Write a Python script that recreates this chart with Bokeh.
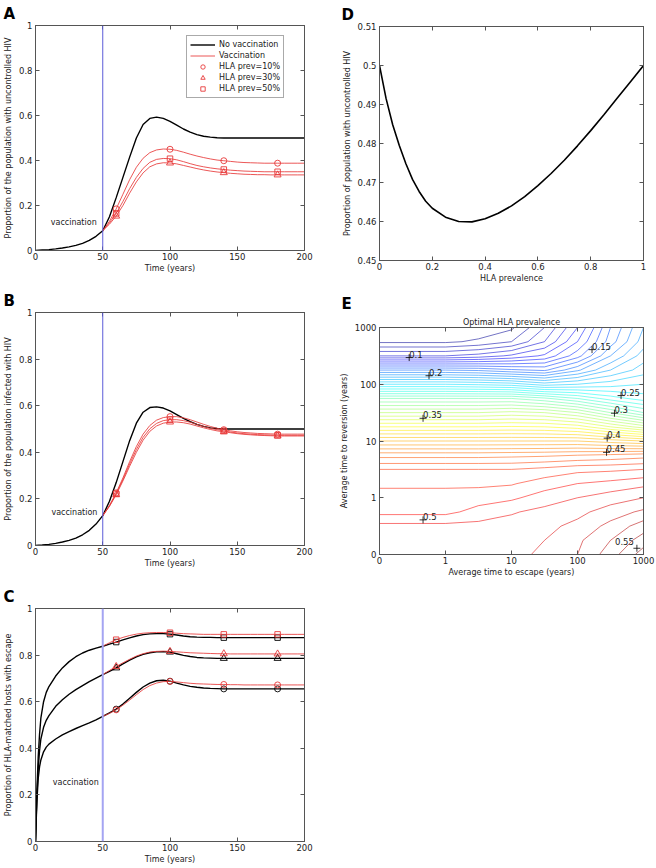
import numpy as np
from bokeh.plotting import figure
from bokeh.layouts import row, column
from bokeh.models import (LinearAxis, FixedTicker, Span, Label, Legend, LegendItem,
                          ColumnDataSource, Range1d, Title)
from bokeh.core.properties import value
from bokeh.embed import file_html
from bokeh.resources import INLINE

# ------------------------------------------------------------------ data
T = list(range(0, 205, 5))            # years (no-vaccination curves, A & B)
TR = list(range(50, 205, 5))          # years (vaccination curves)
TC = [0, 1, 2, 3, 4, 6, 8] + list(range(10, 205, 5))   # years (panel C, no vaccination)
MARK_T = [60, 100, 140, 180]
VACC_YEAR = 50
TIME_TICKS = [0, 50, 100, 150, 200]
TIME_LABELS = ["0", "50", "100", "150", "200"]
PROP_TICKS = [0, 0.2, 0.4, 0.6, 0.8, 1]
PROP_LABELS = ["0", "0.2", "0.4", "0.6", "0.8", "1"]

# Panel A: proportion with uncontrolled HIV
A_NOVAC = [0.0, 0.002, 0.004, 0.007, 0.011, 0.016, 0.023, 0.032, 0.045, 0.063,
           0.088, 0.15, 0.235, 0.325, 0.415, 0.5, 0.56, 0.587, 0.593, 0.587,
           0.574, 0.557, 0.54, 0.526, 0.515, 0.508, 0.504, 0.501, 0.5, 0.5,
           0.5, 0.5, 0.5, 0.5, 0.5, 0.5, 0.5, 0.5, 0.5, 0.5,
           0.5]
A_VAC10 = [0.088, 0.13, 0.185, 0.25, 0.315, 0.37, 0.41, 0.435, 0.447, 0.451,
           0.45, 0.445, 0.437, 0.428, 0.42, 0.413, 0.407, 0.402, 0.399, 0.396,
           0.393, 0.391, 0.39, 0.389, 0.388, 0.388, 0.388, 0.388, 0.388, 0.388,
           0.388]
A_VAC30 = [0.088, 0.117, 0.153, 0.2, 0.255, 0.305, 0.345, 0.372, 0.385, 0.39,
           0.389, 0.385, 0.378, 0.371, 0.364, 0.358, 0.353, 0.349, 0.346, 0.343,
           0.341, 0.339, 0.338, 0.337, 0.337, 0.336, 0.336, 0.336, 0.336, 0.336,
           0.336]
A_VAC50 = [0.088, 0.123, 0.165, 0.218, 0.275, 0.325, 0.365, 0.392, 0.405, 0.409,
           0.408, 0.403, 0.395, 0.386, 0.378, 0.372, 0.367, 0.363, 0.36, 0.357,
           0.355, 0.353, 0.352, 0.351, 0.35, 0.35, 0.35, 0.35, 0.35, 0.35,
           0.35]

# Panel B: proportion infected with HIV
B_NOVAC = [0.0, 0.002, 0.005, 0.009, 0.015, 0.022, 0.032, 0.046, 0.065, 0.092,
           0.128, 0.19, 0.27, 0.36, 0.45, 0.525, 0.572, 0.592, 0.595, 0.59,
           0.578, 0.562, 0.546, 0.532, 0.52, 0.511, 0.505, 0.502, 0.5, 0.5,
           0.5, 0.5, 0.5, 0.5, 0.5, 0.5, 0.5, 0.5, 0.5, 0.5,
           0.5]
B_VAC10 = [0.128, 0.172, 0.226, 0.29, 0.36, 0.425, 0.478, 0.515, 0.538, 0.549,
           0.553, 0.553, 0.548, 0.54, 0.53, 0.52, 0.511, 0.503, 0.497, 0.492,
           0.488, 0.485, 0.483, 0.481, 0.48, 0.479, 0.478, 0.478, 0.478, 0.478,
           0.478]
B_VAC30 = [0.128, 0.168, 0.218, 0.277, 0.34, 0.4, 0.452, 0.49, 0.513, 0.525,
           0.53, 0.53, 0.527, 0.521, 0.513, 0.505, 0.498, 0.492, 0.488, 0.484,
           0.48, 0.477, 0.475, 0.473, 0.472, 0.471, 0.47, 0.47, 0.47, 0.47,
           0.47]
B_VAC50 = [0.128, 0.17, 0.222, 0.283, 0.35, 0.412, 0.464, 0.501, 0.524, 0.536,
           0.54, 0.54, 0.536, 0.529, 0.52, 0.511, 0.503, 0.497, 0.492, 0.487,
           0.483, 0.48, 0.478, 0.476, 0.475, 0.474, 0.473, 0.473, 0.473, 0.473,
           0.473]

# Panel C: proportion of HLA-matched hosts with escape
C_NOVAC10 = [0.0, 0.17, 0.27, 0.32, 0.35, 0.385, 0.405,
             0.418, 0.44, 0.458, 0.472, 0.485, 0.497, 0.509, 0.522, 0.537, 0.552,
             0.568, 0.59, 0.615, 0.64, 0.663, 0.68, 0.69, 0.692, 0.688, 0.68,
             0.672, 0.666, 0.662, 0.659, 0.657, 0.656, 0.655, 0.655, 0.655, 0.655,
             0.655, 0.655, 0.655, 0.655, 0.655, 0.655, 0.655, 0.655, 0.655]
C_NOVAC30 = [0.0, 0.19, 0.31, 0.39, 0.44, 0.49, 0.52,
             0.54, 0.58, 0.608, 0.632, 0.652, 0.669, 0.686, 0.701, 0.716, 0.73,
             0.745, 0.762, 0.778, 0.792, 0.803, 0.81, 0.814, 0.815, 0.813, 0.806,
             0.799, 0.794, 0.79, 0.788, 0.787, 0.786, 0.786, 0.786, 0.786, 0.786,
             0.786, 0.786, 0.786, 0.786, 0.786, 0.786, 0.786, 0.786, 0.786]
C_NOVAC50 = [0.0, 0.21, 0.36, 0.46, 0.53, 0.6, 0.64,
             0.665, 0.71, 0.745, 0.772, 0.793, 0.809, 0.821, 0.83, 0.838, 0.847,
             0.856, 0.865, 0.874, 0.882, 0.888, 0.891, 0.892, 0.892, 0.89, 0.886,
             0.882, 0.879, 0.877, 0.876, 0.876, 0.875, 0.875, 0.875, 0.875, 0.875,
             0.875, 0.875, 0.875, 0.875, 0.875, 0.875, 0.875, 0.875, 0.875]
C_VAC10 = [0.537, 0.55, 0.565, 0.585, 0.607, 0.63, 0.652, 0.669, 0.68, 0.686,
           0.687, 0.685, 0.682, 0.679, 0.677, 0.676, 0.675, 0.674, 0.674, 0.673,
           0.673, 0.672, 0.672, 0.672, 0.672, 0.672, 0.672, 0.672, 0.672, 0.672,
           0.672]
C_VAC30 = [0.716, 0.734, 0.751, 0.767, 0.782, 0.796, 0.806, 0.813, 0.816, 0.817,
           0.816, 0.814, 0.812, 0.81, 0.809, 0.808, 0.807, 0.806, 0.806, 0.805,
           0.805, 0.805, 0.805, 0.805, 0.805, 0.805, 0.805, 0.805, 0.805, 0.805,
           0.805]
C_VAC50 = [0.838, 0.853, 0.866, 0.876, 0.884, 0.89, 0.894, 0.896, 0.897, 0.897,
           0.896, 0.894, 0.892, 0.891, 0.89, 0.889, 0.889, 0.889, 0.889, 0.889,
           0.889, 0.889, 0.889, 0.889, 0.889, 0.889, 0.889, 0.889, 0.889, 0.889,
           0.889]

# Panel D: uncontrolled HIV vs HLA prevalence
D_HLA = [0, 0.025, 0.05, 0.075, 0.1, 0.125, 0.15, 0.175, 0.2, 0.25, 0.3, 0.35, 0.4,
         0.45, 0.5, 0.55, 0.6, 0.65, 0.7, 0.75, 0.8, 0.85, 0.9, 0.95, 1.0]
D_UNC = [0.5, 0.4915, 0.4848, 0.4795, 0.4748, 0.4708, 0.4677, 0.4652, 0.4634, 0.4611,
         0.46, 0.4599, 0.4607, 0.4621, 0.464, 0.4664, 0.4692, 0.4723, 0.4757, 0.4794,
         0.4833, 0.4874, 0.4916, 0.4958, 0.5]
D_XTICKS = [0, 0.2, 0.4, 0.6, 0.8, 1]
D_XLABELS = ["0", "0.2", "0.4", "0.6", "0.8", "1"]
D_YTICKS = [0.45, 0.46, 0.47, 0.48, 0.49, 0.5, 0.51]
D_YLABELS = ["0.45", "0.46", "0.47", "0.48", "0.49", "0.5", "0.51"]

# Panel E: optimal HLA prevalence on a (log-spaced) grid
E_TICK_POS = [0, 1, 2, 3, 4]
E_TICK_LABELS = ["0", "1", "10", "100", "1000"]
E_ESCAPE = [0, 1, 1.5, 2, 2.5, 3, 3.5, 4]                 # axis positions
E_REVERSION = [0, 0.25, 0.5, 0.75, 1.0, 1.25, 1.5, 1.75, 2.0,
               2.25, 2.5, 2.75, 3.0, 3.25, 3.5, 3.75, 4.0]
E_OPT = [
    [0.505, 0.505, 0.505, 0.507, 0.512, 0.52, 0.535, 0.555],
    [0.503, 0.503, 0.503, 0.505, 0.51, 0.518, 0.53, 0.545],
    [0.503, 0.503, 0.503, 0.504, 0.507, 0.513, 0.523, 0.535],
    [0.487, 0.487, 0.494, 0.499, 0.503, 0.507, 0.515, 0.522],
    [0.484, 0.484, 0.485, 0.488, 0.495, 0.5, 0.505, 0.51],
    [0.478, 0.478, 0.478, 0.479, 0.485, 0.49, 0.493, 0.497],
    [0.47, 0.47, 0.47, 0.47, 0.473, 0.477, 0.478, 0.48],
    [0.446, 0.446, 0.446, 0.447, 0.448, 0.45, 0.452, 0.455],
    [0.41, 0.41, 0.41, 0.41, 0.41, 0.41, 0.405, 0.4],
    [0.37, 0.37, 0.37, 0.371, 0.37, 0.365, 0.35, 0.335],
    [0.33, 0.33, 0.33, 0.333, 0.33, 0.32, 0.3, 0.28],
    [0.29, 0.29, 0.29, 0.29, 0.282, 0.27, 0.255, 0.245],
    [0.23, 0.23, 0.228, 0.225, 0.215, 0.22, 0.225, 0.23],
    [0.17, 0.17, 0.168, 0.162, 0.158, 0.178, 0.2, 0.215],
    [0.1, 0.1, 0.104, 0.112, 0.122, 0.146, 0.18, 0.205],
    [0.068, 0.068, 0.072, 0.08, 0.1, 0.13, 0.165, 0.195],
    [0.06, 0.06, 0.062, 0.068, 0.09, 0.12, 0.16, 0.19],
]
E_LEVELS = [round(0.07 + 0.01 * i, 2) for i in range(49)]
E_LAB_X = [0.45, 0.75, 3.22, 3.66, 3.56, 0.66, 3.45, 3.44, 0.66, 3.90]
E_LAB_Y = [3.47, 3.15, 3.61, 2.80, 2.49, 2.40, 2.05, 1.80, 0.61, 0.11]
E_LAB_TEXT = ["0.1", "0.2", "0.15", "0.25", "0.3", "0.35", "0.4", "0.45", "0.5", "0.55"]

# ------------------------------------------------------------------ style
FONT = "DejaVu Sans"
AXC = "#555555"
TXT = "#222222"
RED = "#e83a3a"
TICK_FS = "8.5px"
TITLE_FS = "8px"


def base_fig(w, h, xr, yr, left, right, top, bottom):
    p = figure(width=w, height=h, x_range=Range1d(*xr), y_range=Range1d(*yr),
               output_backend="svg", toolbar_location=None,
               min_border_left=left, min_border_right=right,
               min_border_top=top, min_border_bottom=bottom)
    p.grid.visible = False
    p.outline_line_color = AXC
    p.outline_line_width = 1
    p.background_fill_color = "white"
    p.border_fill_color = "white"
    return p


def tick_style(ax):
    ax.major_tick_in = 4
    ax.major_tick_out = 0
    ax.minor_tick_line_color = None
    ax.major_tick_line_color = AXC
    ax.axis_line_color = AXC


def style_axes(p, xt, xl, yt, yl, xtitle, ytitle):
    xa, ya = p.xaxis[0], p.yaxis[0]
    xa.ticker = FixedTicker(ticks=xt)
    xa.major_label_overrides = dict(zip(xt, xl))
    ya.ticker = FixedTicker(ticks=yt)
    ya.major_label_overrides = dict(zip(yt, yl))
    xa.axis_label = xtitle
    ya.axis_label = ytitle
    for ax in (xa, ya):
        tick_style(ax)
        ax.major_label_text_font = FONT
        ax.major_label_text_font_size = TICK_FS
        ax.major_label_text_color = TXT
        ax.major_label_standoff = 3
        ax.axis_label_text_font = FONT
        ax.axis_label_text_font_size = TITLE_FS
        ax.axis_label_text_font_style = "normal"
        ax.axis_label_text_color = TXT
        ax.axis_label_standoff = 3
    xa.major_label_standoff = 2
    xa.axis_label_standoff = 1
    for loc, ticks in (("above", xt), ("right", yt)):
        ax = LinearAxis(ticker=FixedTicker(ticks=ticks))
        tick_style(ax)
        ax.major_label_text_font_size = "0px"
        ax.major_label_text_color = None
        ax.major_label_standoff = 0
        p.add_layout(ax, loc)


def panel_letter(p, letter, offset):
    p.title.text = letter
    p.title.align = "left"
    p.title.offset = offset
    p.title.standoff = 5
    p.title.text_font = FONT
    p.title.text_font_size = "15px"
    p.title.text_font_style = "bold"
    p.title.text_color = "black"


def vacc(p, x, y, color, width):
    p.add_layout(Span(location=VACC_YEAR, dimension="height", line_color=color,
                      line_width=width))
    p.add_layout(Label(x=x, y=y, text="vaccination", text_font=FONT,
                       text_font_size=TITLE_FS, text_color=TXT,
                       text_align="right", text_baseline="middle"))


def marks(p, tgrid, ys, marker, color, size):
    xs = [t for t in MARK_T]
    vs = [ys[tgrid.index(t)] for t in MARK_T]
    return p.scatter(xs, vs, marker=marker, size=size, line_color=color,
                     fill_color=None, line_width=0.9)


MARKERS = [("circle", 6), ("triangle", 7), ("square", 5.5)]

# ------------------------------------------------------------------ panel A
pa = base_fig(335, 280, (0, 200), (0, 1), 35, 31, 24, 30)
style_axes(pa, TIME_TICKS, TIME_LABELS, PROP_TICKS, PROP_LABELS, "Time (years)",
           "Proportion of the population with uncontrolled HIV")
vacc(pa, 45.5, 0.125, "#5b5bd8", 1)
la_black = pa.line(T, A_NOVAC, line_color="black", line_width=1.4)
red_lines = []
mk_r = []
for ys, (mk, sz) in zip([A_VAC10, A_VAC30, A_VAC50], MARKERS):
    red_lines.append(pa.line(TR, ys, line_color=RED, line_width=1, line_alpha=0.85))
    mk_r.append(marks(pa, TR, ys, mk, RED, sz))
legend = Legend(items=[LegendItem(label="No vaccination", renderers=[la_black]),
                       LegendItem(label="Vaccination", renderers=[red_lines[0]]),
                       LegendItem(label="HLA prev=10%", renderers=[mk_r[0]]),
                       LegendItem(label="HLA prev=30%", renderers=[mk_r[1]]),
                       LegendItem(label="HLA prev=50%", renderers=[mk_r[2]])],
                location=(151, 152))
legend.label_text_font = FONT
legend.label_text_font_size = "8px"
legend.label_text_color = TXT
legend.glyph_width = 25
legend.glyph_height = 11
legend.label_height = 11
legend.spacing = 0
legend.padding = 3
legend.margin = 0
legend.label_standoff = 4
legend.border_line_color = AXC
legend.background_fill_alpha = 1
pa.add_layout(legend)
panel_letter(pa, "A", -32)

# ------------------------------------------------------------------ panel B
pb = base_fig(335, 294, (0, 200), (0, 1), 35, 31, 32, 29)
style_axes(pb, TIME_TICKS, TIME_LABELS, PROP_TICKS, PROP_LABELS, "Time (years)",
           "Proportion of the population infected with HIV")
vacc(pb, 46, 0.142, "#5b5bd8", 1)
pb.line(T, B_NOVAC, line_color="black", line_width=1.4)
for ys, (mk, sz) in zip([B_VAC10, B_VAC30, B_VAC50], MARKERS):
    pb.line(TR, ys, line_color=RED, line_width=1, line_alpha=0.85)
    marks(pb, TR, ys, mk, RED, sz)
panel_letter(pb, "B", -32)

# ------------------------------------------------------------------ panel C
pc = base_fig(335, 294, (0, 200), (0, 1), 35, 31, 34, 27)
style_axes(pc, TIME_TICKS, TIME_LABELS, PROP_TICKS, PROP_LABELS, "Time (years)",
           "Proportion of HLA-matched hosts with escape")
vacc(pc, 47, 0.253, "#a4a4f2", 2)
for ys, (mk, sz) in zip([C_NOVAC10, C_NOVAC30, C_NOVAC50], MARKERS):
    pc.line(TC, ys, line_color="black", line_width=1.4)
    marks(pc, TC, ys, mk, "black", sz)
for ys, (mk, sz) in zip([C_VAC10, C_VAC30, C_VAC50], MARKERS):
    pc.line(TR, ys, line_color=RED, line_width=1, line_alpha=0.85)
    marks(pc, TR, ys, mk, RED, sz)
panel_letter(pc, "C", -32)

# ------------------------------------------------------------------ panel D
pd = base_fig(321, 290, (0, 1), (0.45, 0.51), 43, 6, 26, 30)
style_axes(pd, D_XTICKS, D_XLABELS, D_YTICKS, D_YLABELS, "HLA prevalence",
           "Proportion of population with uncontrolled HIV")
pd.line(D_HLA, D_UNC, line_color="black", line_width=1.6)
panel_letter(pd, "D", -38)

# ------------------------------------------------------------------ panel E
pe = base_fig(321, 296, (0, 4), (0, 4), 44, 13, 36, 32)
style_axes(pe, E_TICK_POS, E_TICK_LABELS, E_TICK_POS, E_TICK_LABELS,
           "Average time to escape (years)", "Average time to reversion (years)")


def jet(t):
    r = min(max(1.5 - abs(4 * t - 3), 0), 1)
    g = min(max(1.5 - abs(4 * t - 2), 0), 1)
    b = min(max(1.5 - abs(4 * t - 1), 0), 1)
    return "#%02x%02x%02x" % (int(r * 255), int(g * 255), int(b * 255))


z = np.array(E_OPT)
zmin, zmax = z.min(), z.max()
colors = [jet((lv - zmin) / (zmax - zmin)) for lv in E_LEVELS]
pe.contour(x=E_ESCAPE, y=E_REVERSION, z=z, levels=E_LEVELS,
           line_color=colors, line_width=1, line_alpha=0.55)
lab_src = ColumnDataSource(dict(
    x=E_LAB_X, y=E_LAB_Y, text=E_LAB_TEXT,
    align=["right" if t == "0.55" else "left" for t in E_LAB_TEXT],
    xoff=[-3 if t == "0.55" else 0 for t in E_LAB_TEXT],
    yoff=[-3 if t == "0.55" else 0 for t in E_LAB_TEXT]))
pe.scatter("x", "y", source=lab_src, marker="cross", size=7, line_color="black",
           line_width=0.8)
pe.text("x", "y", text="text", source=lab_src, text_align="align",
        text_baseline="bottom", x_offset="xoff", y_offset="yoff",
        text_font=value(FONT), text_font_size="8.5px", text_color=TXT)
pe.add_layout(Title(text="Optimal HLA prevalence", align="center", standoff=1,
                    text_font=FONT, text_font_size=TITLE_FS, text_color=TXT,
                    text_font_style="normal"), "above")
panel_letter(pe, "E", -38)

layout = row(column(pa, pb, pc), column(pd, pe))
open("out.html", "w").write(file_html(layout, INLINE))
